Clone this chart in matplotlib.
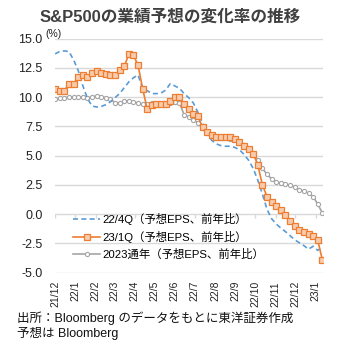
import numpy as np
import pandas as pd
import matplotlib
matplotlib.use("Agg")
import matplotlib.pyplot as plt
import matplotlib.dates as mdates

plt.rcParams['font.family'] = ['Liberation Sans', 'Noto Sans CJK JP', 'DejaVu Sans']

# 週次データ (2021/12/1 から)
dates = pd.date_range('2021-12-01', periods=59, freq='7D')

q4_22 = [13.7, 13.9, 13.95, 13.9, 13.2, 12.3, 11.0, 9.9, 9.25, 9.15,
         9.2, 9.35, 9.6, 9.95, 10.3, 10.8, 11.3, 11.65, 11.9, 10.75,
         10.55, 10.3, 10.3, 10.35, 10.6, 11.15, 10.95, 10.75, 10.3, 9.95,
         9.5, 8.7, 7.8, 6.9, 6.3, 6.0, 5.85, 5.8, 5.8, 5.7,
         5.5, 5.1, 4.6, 3.9, 2.9, 1.7, 0.4, -0.4, -0.85, -1.2,
         -1.5, -1.85, -2.2, -2.45, -2.7, -3.0, -2.75, -3.1, -2.85]

q1_23 = [10.72, 10.52, 10.52, 11.15, 11.15, 11.68, 11.9, 11.74, 12.08, 12.2,
         12.06, 11.95, 11.9, 11.9, 12.3, 12.63, 13.65, 13.56, 12.75, 10.72,
         8.98, 9.3, 9.4, 9.4, 9.4, 9.7, 10.0, 10.0, 9.4, 9.0,
         8.55, 8.35, 7.45, 7.0, 6.75, 6.6, 6.6, 6.6, 6.6, 6.4,
         6.2, 5.85, 5.55, 5.15, 4.2, 2.47, 1.5, 1.05, 0.7, 0.35,
         -0.1, -0.6, -1.05, -1.4, -1.5, -1.68, -1.9, -2.25, -3.9]

fy_2023 = [9.8, 9.9, 9.95, 10.0, 10.0, 10.05, 10.0, 9.95, 10.0, 10.1,
           10.05, 9.95, 9.85, 9.5, 9.5, 9.65, 9.7, 9.6, 9.5, 9.4,
           9.45, 9.5, 9.4, 9.45, 9.35, 9.5, 9.55, 9.5, 8.5, 8.3,
           8.05, 7.8, 7.35, 6.95, 6.7, 6.6, 6.5, 6.5, 6.45, 6.45,
           6.15, 5.9, 5.6, 5.25, 4.6, 3.9, 3.4, 3.0, 2.75, 2.65,
           2.55, 2.45, 2.3, 2.1, 1.95, 1.8, 1.5, 0.85, 0.1]

labels = ['22/4Q（予想EPS、前年比）', '23/1Q（予想EPS、前年比）', '2023通年（予想EPS、前年比）']
month_ticks = pd.date_range('2021-12-01', '2023-01-01', freq='MS')
month_labels = ['21/12', '22/1', '22/2', '22/3', '22/4', '22/5', '22/6', '22/7',
                '22/8', '22/9', '22/10', '22/11', '22/12', '23/1']

fig = plt.figure(figsize=(3.4, 3.45), dpi=100)
ax = fig.add_axes([0.162, 0.21, 0.788, 0.678])

for y in np.arange(-5, 15.1, 2.5):
    ax.axhline(y, color='#D9D9D9', lw=1, zorder=0)
ax.vlines(month_ticks, -0.35, 0, color='#D9D9D9', lw=1, zorder=0)

ax.plot(dates, q4_22, color='#5B9BD5', lw=1.2, ls=(0, (3, 2)), label=labels[0], zorder=2)
ax.plot(dates, q1_23, color='#ED7D31', lw=1.2, marker='s', markersize=4.5,
        markerfacecolor='#F8CBAD', markeredgecolor='#ED7D31', markeredgewidth=0.9,
        label=labels[1], zorder=3)
ax.plot(dates, fy_2023, color='#A5A5A5', lw=1.2, marker='o', markersize=3,
        markerfacecolor='white', markeredgecolor='#A5A5A5', markeredgewidth=0.8,
        label=labels[2], zorder=1)

ax.set_ylim(-5, 15)
ax.set_xlim(dates[0], dates[-1] + pd.Timedelta(days=1))
ax.set_yticks(np.arange(-5, 15.1, 2.5))
ax.set_yticklabels([f'{v:.1f}' for v in np.arange(-5, 15.1, 2.5)], fontsize=9, color='#222222')
ax.set_xticks(month_ticks)
ax.set_xticklabels(month_labels, rotation=90, fontsize=7.5, color='#222222')
ax.tick_params(axis='y', length=0, pad=9)
ax.tick_params(axis='x', length=0, pad=6)
for s in ax.spines.values():
    s.set_visible(False)

ax.legend(loc='lower left', bbox_to_anchor=(0.05, 0.035), frameon=False, fontsize=8.2,
          handlelength=2.4, handletextpad=0.15, labelspacing=0.5, borderaxespad=0)

fig.text(0.5, 0.95, 'S&P500の業績予想の変化率の推移', ha='center', va='center',
         fontsize=12, fontweight='bold', color='#404040')
fig.text(0.132, 0.902, '(%)', ha='left', va='center', fontsize=7.5, color='#222222')
fig.text(0.05, 0.078, '出所：Bloomberg のデータをもとに東洋証券作成', ha='left', va='center',
         fontsize=9, color='#111111')
fig.text(0.05, 0.033, '予想は Bloomberg', ha='left', va='center', fontsize=9, color='#111111')

fig.savefig('out.png', dpi=100)
